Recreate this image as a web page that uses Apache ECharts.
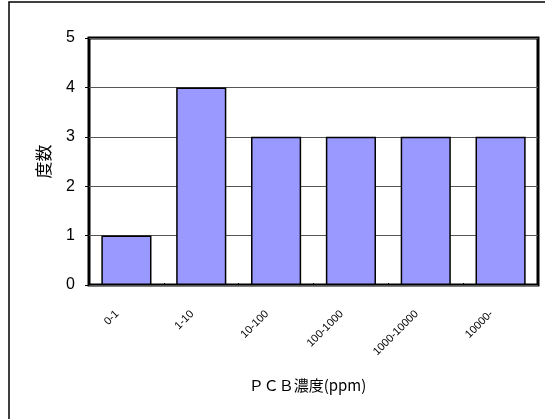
<!DOCTYPE html>
<html>
<head>
<meta charset="utf-8">
<script src="https://cdn.jsdelivr.net/npm/echarts@6/dist/echarts.min.js"></script>
<style>
  html, body { margin: 0; padding: 0; background: #fff; }
  #chart { width: 545px; height: 419px; }
</style>
</head>
<body>
<div id="chart"></div>
<script>
// PCB concentration classes and how many samples fall in each
const categories = ['0-1', '1-10', '10-100', '100-1000', '1000-10000', '10000-'];
const counts = [1, 4, 3, 3, 3, 3];
const yTicks = [0, 1, 2, 3, 4, 5];

const chart = echarts.init(document.getElementById('chart'), null, { renderer: 'canvas' });

chart.setOption({
  animation: false,
  backgroundColor: '#fff',
  graphic: [
    {
      type: 'rect',
      shape: { x: 9, y: 2, width: 560, height: 440 },
      style: { fill: null, stroke: '#000', lineWidth: 1.5 },
      silent: true,
      z: -1
    }
  ],
  grid: {
    left: 89, top: 38, right: 7, bottom: 134,
    show: true,
    borderColor: '#000',
    borderWidth: 3,
    backgroundColor: 'transparent'
  },
  xAxis: {
    type: 'category',
    data: categories,
    name: 'ＰＣＢ濃度(ppm)',
    nameLocation: 'middle',
    nameGap: 93,
    nameTextStyle: {
      fontFamily: 'Noto Sans CJK JP',
      fontSize: 15,
      color: '#000',
      padding: [0, 12, 0, 0]
    },
    axisLine: { show: false },
    axisTick: { show: true, inside: true, length: 2, lineStyle: { color: '#000' } },
    axisLabel: {
      rotate: 45,
      fontFamily: 'Liberation Sans',
      fontSize: 11,
      color: '#000',
      margin: 18,
      padding: [0, 13, 26, 0],
      interval: 0
    }
  },
  yAxis: {
    type: 'value',
    min: 0, max: 5, interval: 1,
    name: '度数',
    nameLocation: 'middle',
    nameGap: 37,
    nameRotate: 90,
    nameTextStyle: { fontFamily: 'Noto Sans CJK JP', fontSize: 17, color: '#000' },
    axisLine: { show: false },
    axisTick: { show: true, length: 4, lineStyle: { color: '#000' } },
    axisLabel: {
      fontFamily: 'Liberation Sans',
      fontSize: 16,
      color: '#000',
      margin: 14,
      formatter: v => (yTicks.includes(v) ? String(v) : '')
    },
    splitLine: { show: true, lineStyle: { color: '#555', width: 1 } }
  },
  series: [
    {
      type: 'bar',
      data: counts,
      barWidth: '67%',
      itemStyle: { color: '#9999FF', borderColor: '#000', borderWidth: 1.5 }
    }
  ]
});
</script>
</body>
</html>
